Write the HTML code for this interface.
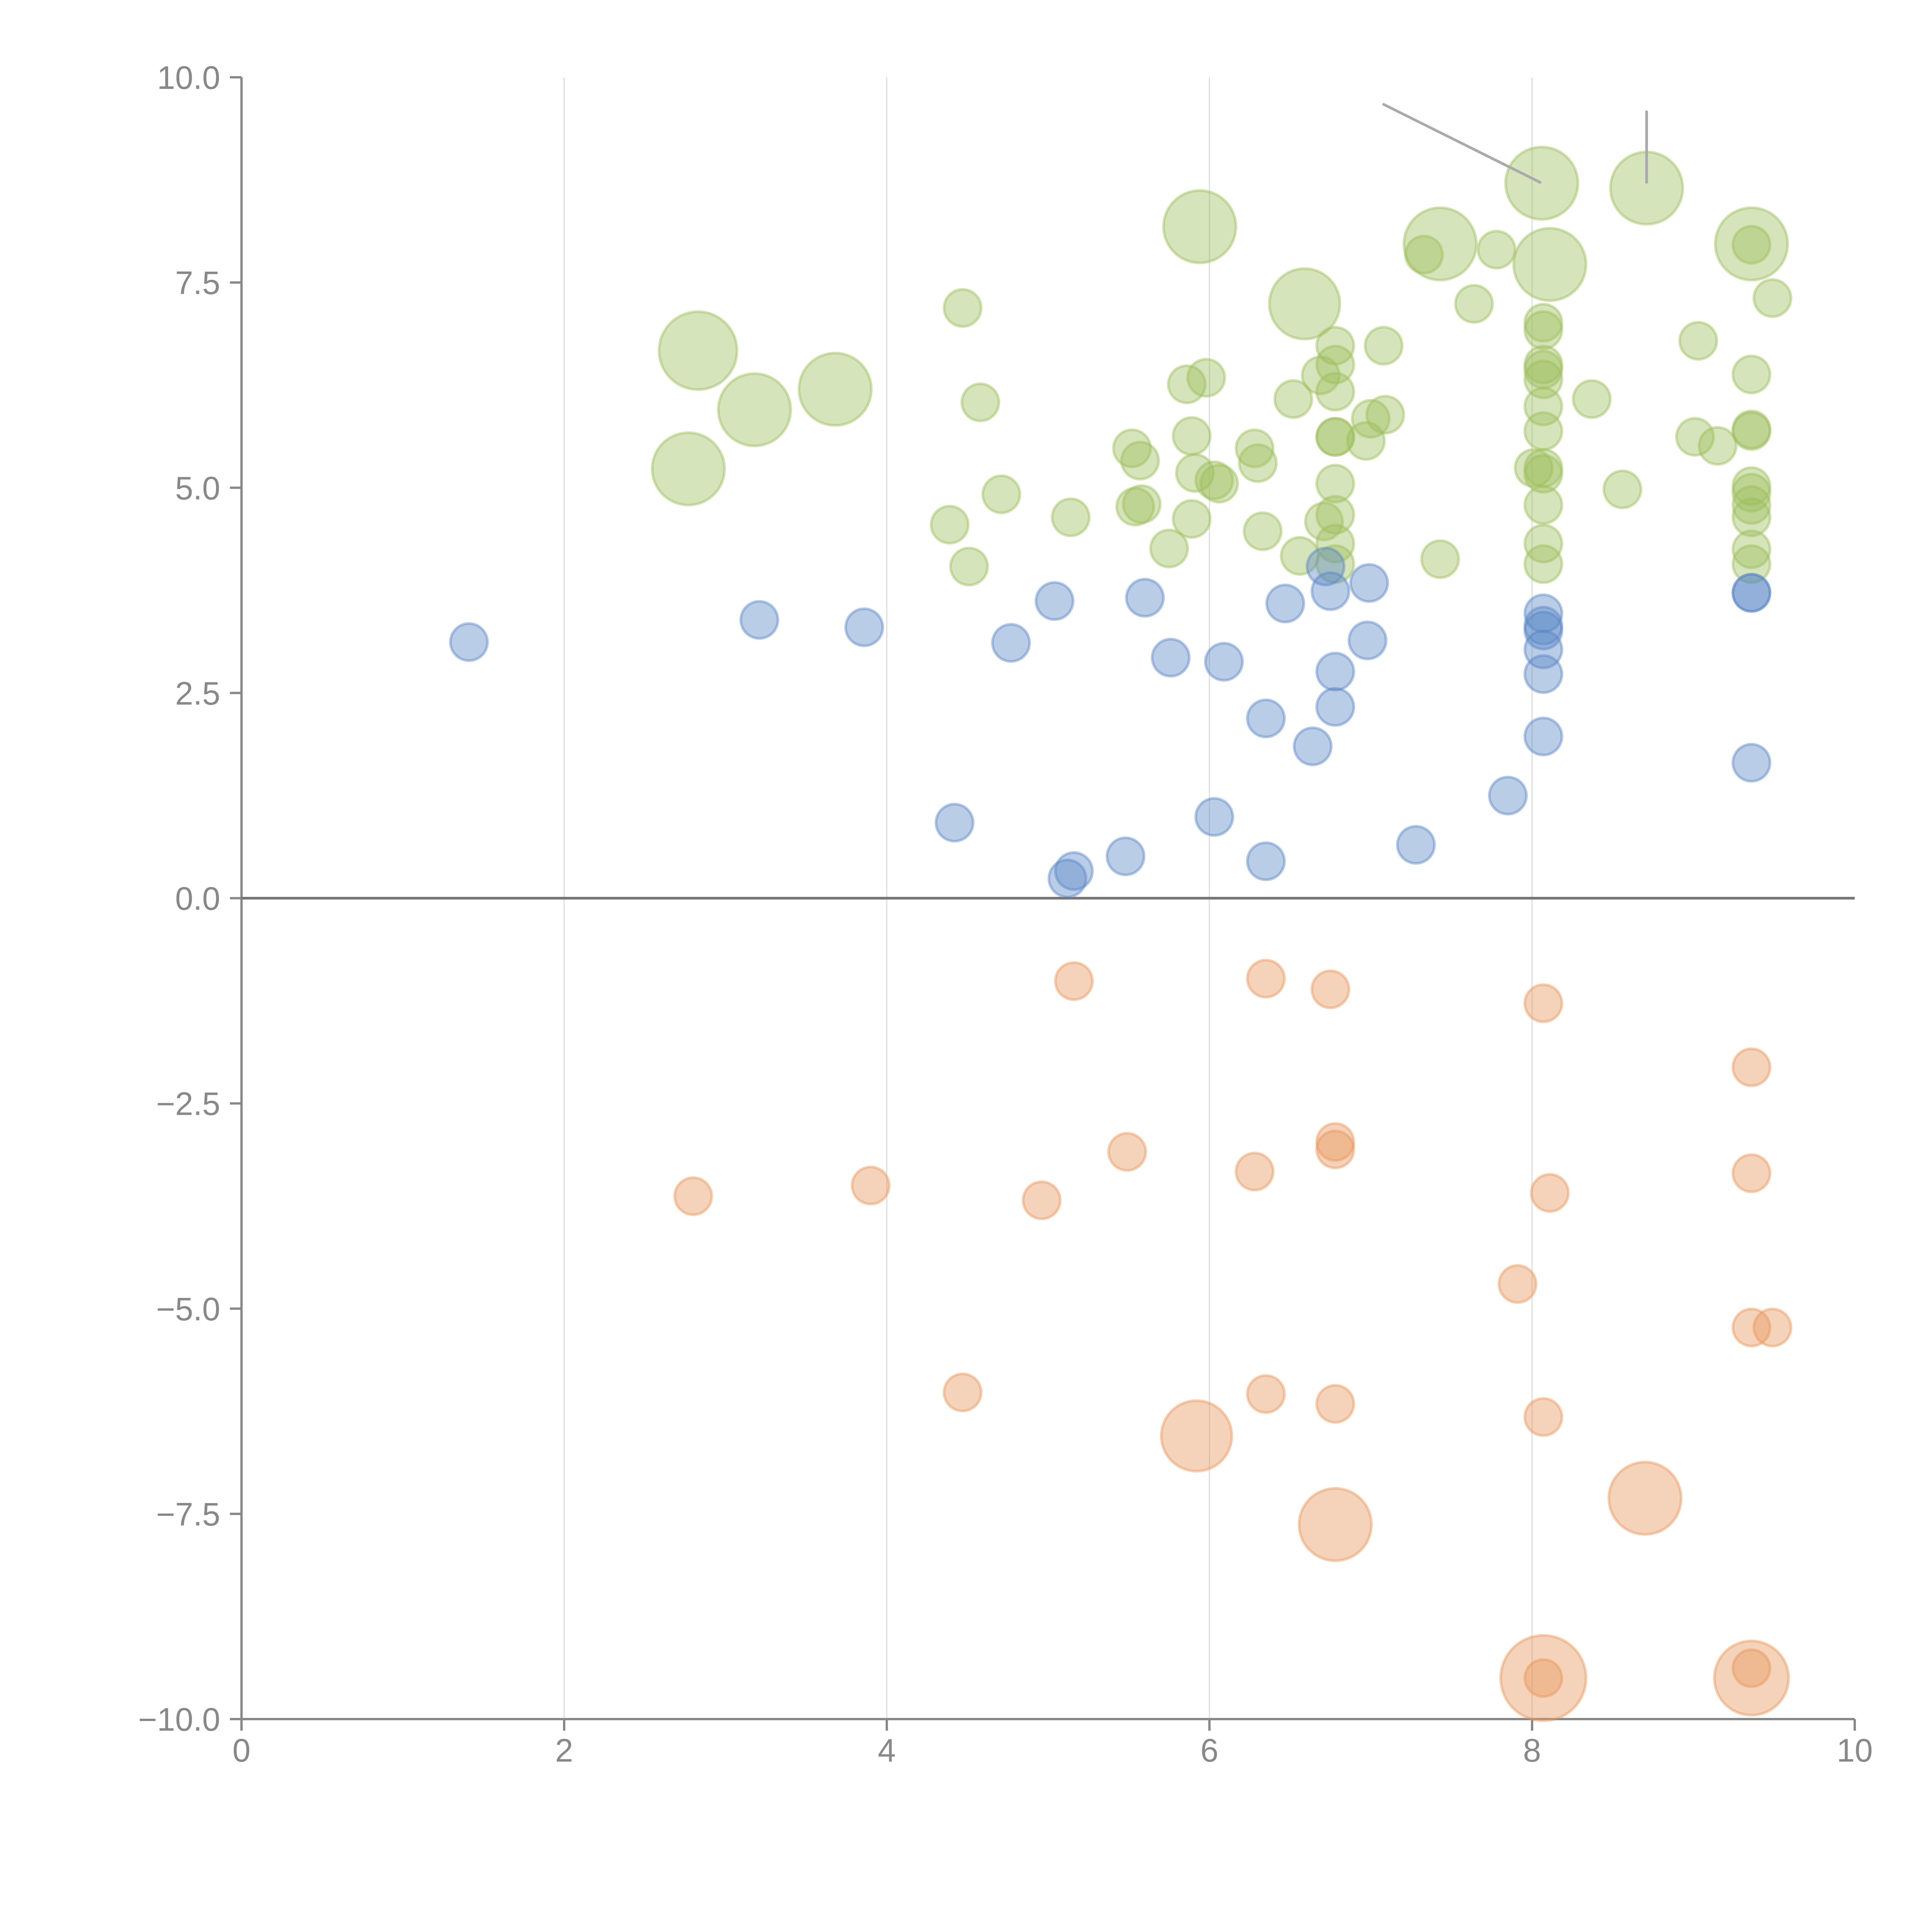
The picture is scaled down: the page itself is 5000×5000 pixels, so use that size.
<!DOCTYPE html>
<html><head><meta charset="utf-8"><style>html,body{margin:0;padding:0;background:#fff}svg{display:block}</style></head>
<body>
<svg id="chart" width="5000" height="5000" viewBox="0 0 5000 5000" xmlns="http://www.w3.org/2000/svg" font-family="Liberation Sans, sans-serif"></svg>
<script>
const xTicks=[0,2,4,6,8,10];
const yTicks=[10,7.5,5,2.5,0,-2.5,-5,-7.5,-10];
const yTickLabels=["10.0","7.5","5.0","2.5","0.0","\u22122.5","\u22125.0","\u22127.5","\u221210.0"];
const blueX=[1.41,3.21,3.86,4.77,5.04,5.60,5.76,6.09,6.47,6.72,6.75,6.99,6.98,6.78,6.78,6.35,6.64,6.03,6.35,5.48,5.16,5.12,4.42,7.28,7.85,8.07,8.07,8.07,8.07,8.07,8.07,9.36,9.36,9.36];
const blueY=[3.12,3.39,3.30,3.11,3.62,3.66,2.93,2.88,3.59,4.04,3.74,3.84,3.14,2.76,2.33,2.19,1.85,0.99,0.45,0.51,0.33,0.24,0.92,0.65,1.25,1.97,2.73,3.03,3.26,3.47,3.32,3.72,3.72,1.65];
const orangeX=[2.80,3.90,4.96,5.49,5.16,6.35,6.75,8.07,9.36,6.28,6.78,6.78,8.11,9.36,7.91,9.36,9.49,4.47,6.35,6.78,8.07,5.92,6.78,8.70,8.07,8.07,9.36,9.36];
const orangeY=[-3.63,-3.50,-3.68,-3.09,-1.01,-0.98,-1.11,-1.28,-2.06,-3.33,-2.97,-3.06,-3.59,-3.35,-4.70,-5.23,-5.23,-6.02,-6.04,-6.16,-6.32,-6.55,-7.63,-7.31,-9.50,-9.50,-9.50,-9.38];
const orangeSize=[1,1,1,1,1,1,1,1,1,1,1,1,1,1,1,1,1,1,1,1,1,1.9,1.95,1.95,2.3,1,2.0,1];
const greenX=[5.94,6.59,7.43,8.06,8.11,8.71,9.36,2.83,3.18,3.68,2.77,
4.47,4.58,4.71,4.39,4.51,5.14,5.52,5.57,5.54,5.58,5.75,5.89,5.89,5.86,5.98,5.91,6.03,6.06,6.28,6.30,6.33,6.52,6.56,6.69,6.71,6.78,6.78,6.78,6.78,6.78,6.78,6.78,6.78,6.78,6.97,7.00,7.09,7.08,7.33,7.43,7.64,7.78,
8.07,8.07,8.07,8.07,8.07,8.07,8.07,8.07,8.07,8.07,8.07,8.07,8.01,8.37,8.56,9.03,9.01,9.15,9.36,9.49,9.36,9.36,9.36,9.36,9.36,9.36,9.36,9.36,9.36];
const greenY=[8.18,7.24,7.97,8.71,7.72,8.65,7.97,6.67,5.95,6.20,5.23,
7.19,6.04,4.92,4.55,4.04,4.64,5.48,5.33,4.77,4.80,4.26,4.62,5.63,6.26,6.34,5.18,5.09,5.05,5.48,5.30,4.47,6.08,4.17,6.37,4.59,6.73,6.50,6.17,5.62,5.62,5.05,4.67,4.32,4.07,5.57,5.84,5.89,6.73,7.84,4.13,7.24,7.90,
7.01,6.92,6.50,6.44,6.32,5.99,5.69,5.24,5.17,4.79,4.32,4.07,5.24,6.08,4.98,6.79,5.62,5.51,7.96,7.31,6.38,5.71,5.69,5.02,4.94,4.79,4.64,4.25,4.07];
const greenSize=[1.95,1.9,1.95,1.95,1.95,1.95,1.95,2.1,1.95,1.95,1.95];

const svg=document.getElementById('chart');
const NS='http://www.w3.org/2000/svg';
const X0=625,X1=4800,Y0=200,Y1=4449;
const sx=v=>X0+(v-0)/(10-0)*(X1-X0);
const sy=v=>Y0+(10-v)/20*(Y1-Y0);
const R=48;
function mk(tag,attrs){const e=document.createElementNS(NS,tag);for(const k in attrs)e.setAttribute(k,attrs[k]);svg.appendChild(e);return e;}

// grid lines
for(const t of [2,4,6,8]){
  const g=mk('line',{x1:sx(t),x2:sx(t),y1:Y0,y2:Y1,stroke:'#dddddd','stroke-width':3});
  
  
}
// axes
const ya=mk('line',{x1:X0,x2:X0,y1:Y0,y2:Y1,stroke:'#888','stroke-width':6});


const xa=mk('line',{x1:X0,x2:X1,y1:Y1,y2:Y1,stroke:'#888','stroke-width':6});


yTicks.forEach((t,i)=>{
  const tk=mk('line',{x1:X0-30,x2:X0,y1:sy(t),y2:sy(t),stroke:'#888','stroke-width':6});
  
  
  const tx=mk('text',{x:X0-55,y:sy(t)+30,'text-anchor':'end','font-size':84,fill:'#888'});
  tx.textContent=yTickLabels[i];
  
  
});
xTicks.forEach(t=>{
  const tk=mk('line',{x1:sx(t),x2:sx(t),y1:Y1,y2:Y1+30,stroke:'#888','stroke-width':6});
  
  
  const tx=mk('text',{x:sx(t),y:Y1+110,'text-anchor':'middle','font-size':84,fill:'#888'});
  tx.textContent=String(t);
  
  
});
// zero line
const zl=mk('line',{x1:X0,x2:X1,y1:sy(0),y2:sy(0),stroke:'#777','stroke-width':7});



function series(xs,ys,sizes,fill,name){
  xs.forEach((x,i)=>{
    const s=sizes[i]||1;
    const c=mk('circle',{cx:sx(x),cy:sy(ys[i]),r:R*s,fill:fill,'fill-opacity':0.42,stroke:fill,'stroke-opacity':0.45,'stroke-width':7});
    
    
  });
}
series(greenX,greenY,greenSize,'#9dbf5c','green-bubble');
series(blueX,blueY,[],'#5a87c6','blue-bubble');
series(orangeX,orangeY,orangeSize,'#e8975a','orange-bubble');

// annotation leader lines
const l1=mk('line',{x1:sx(7.08),y1:sy(9.67),x2:sx(8.05),y2:sy(8.72),stroke:'#aaa','stroke-width':7,'stroke-linecap':'round'});


const l2=mk('line',{x1:sx(8.71),y1:sy(9.58),x2:sx(8.71),y2:sy(8.72),stroke:'#aaa','stroke-width':7,'stroke-linecap':'round'});


</script>
</body></html>
